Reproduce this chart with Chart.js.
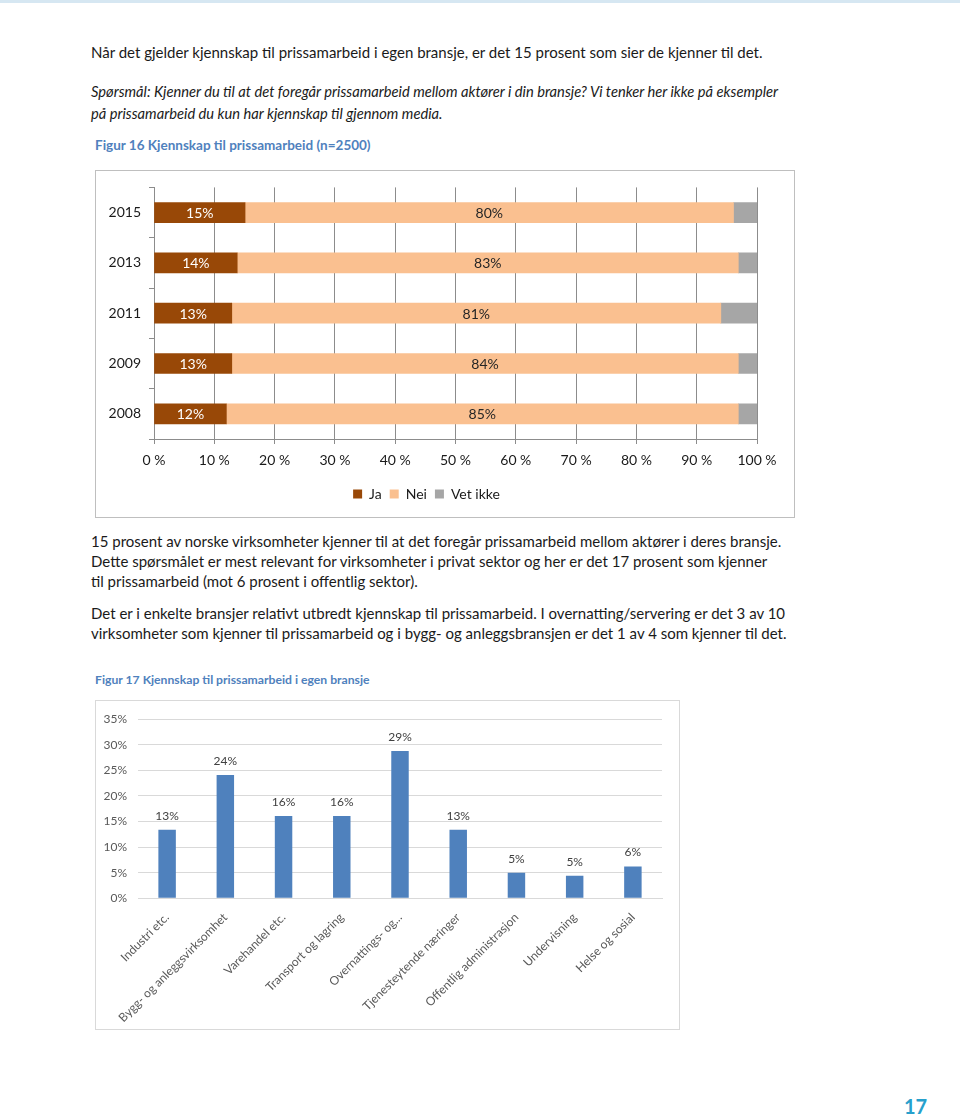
<!DOCTYPE html>
<html>
<head>
<meta charset="utf-8">
<script src="https://cdn.jsdelivr.net/npm/chart.js@4"></script>
<style>
  html, body { margin: 0; padding: 0; background: #fff; }
  body { width: 960px; height: 1114px; position: relative; overflow: hidden; font-family: Lato, "Open Sans", sans-serif; color: #1a1a1a; }
  .topline { position: absolute; left: 0; top: 0; width: 960px; height: 3px; background: #d6e7f2; }
  .txt { position: absolute; left: 91px; font-size: 15px; line-height: 20px; white-space: nowrap; }
  .ital { font-style: italic; font-size: 14.7px; line-height: 22px; }
  .fig { position: absolute; left: 95px; font-family: Lato, sans-serif; font-weight: bold; line-height: 16px; color: #4f81bd; white-space: nowrap; }
  .box { position: absolute; background: #fff; }
  #box16 { left: 95px; top: 170px; width: 698px; height: 346px; border: 1px solid #bfbfbf; }
  #box17 { left: 95px; top: 700px; width: 583px; height: 328px; border: 1px solid #d9d9d9; }
  .pageno { position: absolute; left: 904px; top: 1094px; font-size: 20px; font-weight: bold; color: #27a0cc; }
</style>
</head>
<body>
<div class="topline"></div>

<div class="txt" style="top:42px">Når det gjelder kjennskap til prissamarbeid i egen bransje, er det 15 prosent som sier de kjenner til det.</div>
<div class="txt ital" style="top:80px">Spørsmål: Kjenner du til at det foregår prissamarbeid mellom aktører i din bransje? Vi tenker her ikke på eksempler<br>på prissamarbeid du kun har kjennskap til gjennom media.</div>

<div class="fig" style="top:137px; font-size:13.5px">Figur 16 Kjennskap til prissamarbeid (n=2500)</div>
<div class="box" id="box16"><canvas id="chart16" width="698" height="346"></canvas></div>

<div class="txt" style="top:531px">15 prosent av norske virksomheter kjenner til at det foregår prissamarbeid mellom aktører i deres bransje.<br>Dette spørsmålet er mest relevant for virksomheter i privat sektor og her er det 17 prosent som kjenner<br>til prissamarbeid (mot 6 prosent i offentlig sektor).</div>
<div class="txt" style="top:603px">Det er i enkelte bransjer relativt utbredt kjennskap til prissamarbeid. I overnatting/servering er det 3 av 10<br>virksomheter som kjenner til prissamarbeid og i bygg- og anleggsbransjen er det 1 av 4 som kjenner til det.</div>

<div class="fig" style="top:672px; font-size:12.2px">Figur 17 Kjennskap til prissamarbeid i egen bransje</div>
<div class="box" id="box17"><canvas id="chart17" width="583" height="328"></canvas></div>

<div class="pageno">17</div>

<script>
// Figur 16
const years = ['2015', '2013', '2011', '2009', '2008'];
const ja = [15.1, 13.8, 12.9, 12.9, 12.0];
const nei = [81.0, 83.1, 81.1, 84.0, 84.9];
const vetIkke = [3.9, 3.1, 6.0, 3.1, 3.1];
const jaLabels = ['15%', '14%', '13%', '13%', '12%'];
const neiLabels = ['80%', '83%', '81%', '84%', '85%'];

// Figur 17
const bransjer = ['Industri etc.', 'Bygg- og anleggsvirksomhet', 'Varehandel etc.', 'Transport og lagring',
  'Overnattings- og...', 'Tjenesteytende næringer', 'Offentlig administrasjon', 'Undervisning', 'Helse og sosial'];
const kjennskap = [13.4, 24.1, 16.1, 16.1, 28.8, 13.4, 5.0, 4.4, 6.2];
const kjennskapLabels = ['13%', '24%', '16%', '16%', '29%', '13%', '5%', '5%', '6%'];

const FONT = 'Lato, "Open Sans", sans-serif';

// draws the value text on the bars (no datalabels plugin available)
const barLabels = {
    id: 'barLabels',
    afterDatasetsDraw(chart) {
        const ctx = chart.ctx;
        const horizontal = chart.options.indexAxis === 'y';
        chart.data.datasets.forEach((ds, i) => {
            if (!ds.valueLabels) return;
            const meta = chart.getDatasetMeta(i);
            ctx.save();
            ctx.font = ds.labelFont || ('14px ' + FONT);
            ctx.fillStyle = ds.labelColor || '#333';
            ctx.textAlign = 'center';
            ctx.textBaseline = 'middle';
            meta.data.forEach((bar, j) => {
                if (horizontal) {
                    ctx.fillText(ds.valueLabels[j], (bar.x + bar.base) / 2, bar.y + 1);
                } else {
                    ctx.fillText(ds.valueLabels[j], bar.x, bar.y - 14);
                }
            });
            ctx.restore();
        });
    }
};

new Chart(document.getElementById('chart16'), {
    type: 'bar',
    data: {
        labels: years,
        datasets: [
            { label: 'Ja', data: ja, backgroundColor: '#984807', valueLabels: jaLabels, labelColor: '#ffffff' },
            { label: 'Nei', data: nei, backgroundColor: '#fac090', valueLabels: neiLabels, labelColor: '#262626' },
            { label: 'Vet ikke', data: vetIkke, backgroundColor: '#a6a6a6' }
        ]
    },
    options: {
        indexAxis: 'y',
        responsive: false,
        animation: false,
        layout: { padding: { top: 16, right: 37, bottom: 6, left: 0 } },
        datasets: { bar: { barThickness: 20, borderWidth: 0 } },
        scales: {
            x: {
                stacked: true,
                min: 0,
                max: 100,
                ticks: { stepSize: 10, callback: v => v + ' %', color: '#1a1a1a', padding: 8, font: { family: FONT, size: 14 } },
                grid: { color: '#8c8c8c', tickLength: 5, drawTicks: true },
                border: { color: '#8c8c8c' },
                afterFit: s => { s.height = 40; }
            },
            y: {
                stacked: true,
                ticks: { color: '#1a1a1a', padding: 8, font: { family: FONT, size: 14 } },
                grid: { offset: true, drawOnChartArea: false, color: '#8c8c8c', tickLength: 5 },
                border: { color: '#8c8c8c' },
                afterFit: s => { s.width = 58; }
            }
        },
        plugins: {
            legend: {
                position: 'bottom',
                labels: { boxWidth: 9, boxHeight: 9, padding: 8, color: '#1a1a1a', font: { family: FONT, size: 14 } }
            },
            tooltip: { enabled: false }
        }
    },
    plugins: [barLabels]
});

new Chart(document.getElementById('chart17'), {
    type: 'bar',
    data: {
        labels: bransjer,
        datasets: [{
            label: 'Kjennskap',
            data: kjennskap,
            backgroundColor: '#4f81bd',
            valueLabels: kjennskapLabels,
            labelColor: '#404040',
            labelFont: '12px ' + FONT
        }]
    },
    options: {
        responsive: false,
        animation: false,
        layout: { padding: { top: 12, right: 17, bottom: 0, left: 0 } },
        datasets: { bar: { barPercentage: 0.3, categoryPercentage: 1 } },
        scales: {
            x: {
                ticks: { minRotation: 45, maxRotation: 45, color: '#595959', padding: 4, font: { family: FONT, size: 12 } },
                grid: { display: false },
                border: { color: '#d9d9d9' }
            },
            y: {
                min: 0,
                max: 35,
                ticks: { stepSize: 5, callback: v => v + '%', color: '#595959', padding: 11, font: { family: FONT, size: 12 } },
                grid: { color: '#d9d9d9', drawTicks: false },
                border: { display: false },
                afterFit: s => { s.width = 42; }
            }
        },
        plugins: {
            legend: { display: false },
            tooltip: { enabled: false }
        }
    },
    plugins: [barLabels]
});
</script>
</body>
</html>
